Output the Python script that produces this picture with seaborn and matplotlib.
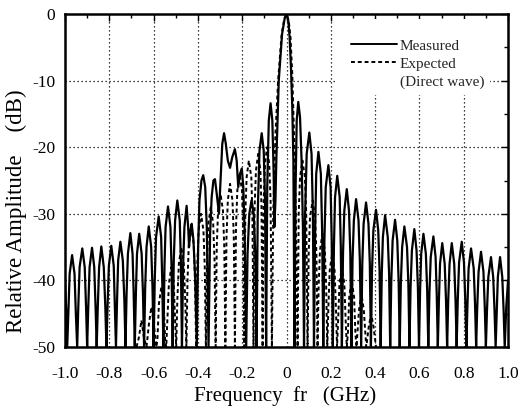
import numpy as np
import pandas as pd
import matplotlib
matplotlib.use("Agg")
import matplotlib.pyplot as plt
from matplotlib.lines import Line2D
from matplotlib.patches import Rectangle
import seaborn as sns

# ---- Measured spectrum, (frequency GHz, amplitude dB) vertices ----
measured_left = [
    (-1.000, -40.0), (-0.995, -44.0), (-0.990, -50.0),
    (-0.985, -45.0), (-0.979, -39.0), (-0.968, -36.2), (-0.957, -39.0), (-0.951, -45.0), (-0.945, -50.0),
    (-0.940, -44.0), (-0.934, -38.0), (-0.922, -35.2), (-0.911, -38.0), (-0.905, -44.0), (-0.900, -50.0),
    (-0.895, -44.0), (-0.889, -38.0), (-0.878, -35.1), (-0.868, -38.0), (-0.862, -44.0), (-0.857, -50.0),
    (-0.852, -44.0), (-0.846, -38.0), (-0.836, -34.9), (-0.825, -38.0), (-0.818, -44.0), (-0.813, -50.0),
    (-0.808, -44.0), (-0.802, -37.8), (-0.791, -34.8), (-0.780, -37.8), (-0.775, -44.0), (-0.770, -50.0),
    (-0.765, -43.0), (-0.760, -37.0), (-0.750, -34.2), (-0.739, -37.0), (-0.732, -43.0), (-0.727, -50.0),
    (-0.722, -42.0), (-0.716, -36.0), (-0.705, -32.9), (-0.695, -36.0), (-0.690, -42.0), (-0.685, -50.0),
    (-0.680, -42.0), (-0.675, -36.0), (-0.665, -33.0), (-0.654, -36.0), (-0.648, -42.0), (-0.643, -50.0),
    (-0.638, -41.0), (-0.632, -35.0), (-0.622, -31.9), (-0.611, -35.0), (-0.605, -41.0), (-0.600, -50.0),
    (-0.595, -40.0), (-0.589, -33.5), (-0.577, -30.4), (-0.566, -33.5), (-0.561, -40.0), (-0.556, -50.0),
    (-0.551, -38.0), (-0.546, -32.0), (-0.535, -28.9), (-0.524, -32.0), (-0.519, -38.0), (-0.514, -50.0),
    (-0.509, -37.0), (-0.503, -31.0), (-0.493, -28.0), (-0.482, -31.0), (-0.477, -37.0), (-0.472, -50.0),
    (-0.467, -38.0), (-0.461, -32.0), (-0.451, -28.8), (-0.444, -32.0), (-0.440, -35.0), (-0.434, -32.5),
    (-0.428, -31.5), (-0.420, -34.0), (-0.412, -40.0), (-0.405, -50.0),
]
measured_core = [
    (-0.399, -35.0), (-0.393, -28.0), (-0.384, -25.0), (-0.376, -24.2), (-0.367, -26.0), (-0.360, -32.0),
    (-0.352, -50.0), (-0.345, -33.0), (-0.338, -27.5), (-0.330, -25.0), (-0.323, -24.8), (-0.315, -27.0),
    (-0.305, -30.0), (-0.298, -25.0), (-0.290, -19.5), (-0.282, -17.9), (-0.274, -19.5), (-0.265, -22.0),
    (-0.255, -23.1), (-0.245, -21.5), (-0.233, -20.3), (-0.225, -22.0), (-0.218, -26.0), (-0.210, -24.0),
    (-0.202, -23.2), (-0.195, -26.0), (-0.189, -33.0), (-0.182, -50.0), (-0.176, -36.0), (-0.168, -30.0),
    (-0.158, -28.0), (-0.148, -30.0), (-0.141, -36.0), (-0.135, -50.0), (-0.130, -30.0), (-0.122, -20.5),
    (-0.112, -17.9), (-0.103, -20.5), (-0.097, -28.0), (-0.092, -50.0), (-0.087, -26.0), (-0.080, -16.0),
    (-0.072, -13.4), (-0.064, -16.0), (-0.058, -24.0), (-0.055, -32.0), (-0.050, -28.0), (-0.046, -22.0),
    (-0.035, -10.0), (-0.020, -3.0), (-0.008, -0.6), (0.000, 0.0), (0.008, -1.0), (0.014, -3.5),
    (0.020, -8.0), (0.026, -14.0), (0.031, -22.0), (0.036, -50.0), (0.041, -26.0), (0.046, -16.0),
    (0.053, -13.2), (0.061, -15.5), (0.068, -22.0), (0.074, -32.0), (0.079, -50.0),
]
measured_right = [
    (0.084, -30.0), (0.091, -21.0), (0.103, -17.8), (0.113, -21.0), (0.119, -30.0), (0.124, -50.0),
    (0.129, -33.0), (0.134, -24.0), (0.144, -20.7), (0.155, -24.0), (0.161, -33.0), (0.166, -50.0),
    (0.171, -34.0), (0.177, -26.0), (0.189, -22.7), (0.199, -26.0), (0.204, -34.0), (0.209, -50.0),
    (0.214, -35.0), (0.219, -27.5), (0.229, -24.3), (0.240, -27.5), (0.245, -35.0), (0.250, -50.0),
    (0.255, -36.0), (0.261, -29.5), (0.272, -26.3), (0.282, -29.5), (0.288, -36.0), (0.293, -50.0),
    (0.298, -37.0), (0.304, -31.0), (0.314, -27.8), (0.325, -31.0), (0.331, -37.0), (0.337, -50.0),
    (0.342, -37.5), (0.348, -31.5), (0.359, -28.3), (0.370, -31.5), (0.376, -37.5), (0.381, -50.0),
    (0.386, -38.5), (0.392, -32.5), (0.404, -29.4), (0.414, -32.5), (0.420, -38.5), (0.425, -50.0),
    (0.430, -39.0), (0.435, -33.5), (0.445, -30.2), (0.457, -33.5), (0.463, -39.0), (0.468, -50.0),
    (0.473, -40.0), (0.479, -34.0), (0.490, -30.9), (0.500, -34.0), (0.506, -40.0), (0.511, -50.0),
    (0.516, -40.5), (0.522, -35.0), (0.532, -31.9), (0.544, -35.0), (0.550, -40.5), (0.555, -50.0),
    (0.560, -41.0), (0.566, -35.5), (0.577, -32.3), (0.587, -35.5), (0.593, -41.0), (0.598, -50.0),
    (0.603, -41.5), (0.608, -36.0), (0.618, -33.0), (0.629, -36.0), (0.635, -41.5), (0.640, -50.0),
    (0.645, -42.0), (0.651, -36.5), (0.663, -33.4), (0.673, -36.5), (0.678, -42.0), (0.683, -50.0),
    (0.688, -43.0), (0.693, -37.5), (0.703, -34.4), (0.714, -37.5), (0.720, -43.0), (0.725, -50.0),
    (0.730, -43.0), (0.736, -37.5), (0.746, -34.4), (0.757, -37.5), (0.763, -43.0), (0.768, -50.0),
    (0.773, -43.0), (0.779, -37.3), (0.791, -34.2), (0.801, -37.3), (0.807, -43.0), (0.812, -50.0),
    (0.817, -43.5), (0.822, -38.2), (0.833, -35.2), (0.845, -38.2), (0.851, -43.5), (0.856, -50.0),
    (0.861, -44.0), (0.867, -38.7), (0.878, -35.7), (0.889, -38.7), (0.895, -44.0), (0.900, -50.0),
    (0.905, -44.5), (0.911, -39.5), (0.923, -36.5), (0.933, -39.5), (0.939, -44.5), (0.944, -50.0),
    (0.949, -44.5), (0.954, -39.5), (0.964, -36.5), (0.974, -39.5), (0.980, -44.5), (0.985, -50.0),
    (0.992, -44.0), (1.000, -40.0),
]

# ---- Expected spectrum (direct wave), (frequency GHz, amplitude dB) vertices ----
expected_left = [
    (-0.677, -50.0), (-0.666, -48.5), (-0.655, -46.0), (-0.644, -48.5), (-0.632, -50.0),
    (-0.621, -46.5), (-0.610, -44.0), (-0.599, -46.5), (-0.588, -50.0),
    (-0.583, -49.0), (-0.576, -43.5), (-0.565, -41.0), (-0.554, -43.5), (-0.548, -49.0), (-0.543, -50.0),
    (-0.538, -46.0), (-0.531, -40.5), (-0.520, -38.0), (-0.509, -40.5), (-0.503, -46.0), (-0.498, -50.0),
    (-0.493, -43.0), (-0.486, -37.5), (-0.475, -35.0), (-0.464, -37.5), (-0.457, -43.0), (-0.452, -50.0),
    (-0.447, -40.0), (-0.441, -34.5), (-0.430, -32.0), (-0.419, -34.5), (-0.413, -40.0), (-0.408, -50.0),
    (-0.403, -38.0), (-0.397, -32.5), (-0.386, -30.0), (-0.375, -32.5), (-0.369, -38.0), (-0.364, -50.0),
    (-0.359, -37.0), (-0.353, -31.5), (-0.342, -29.0), (-0.331, -31.5), (-0.325, -37.0), (-0.320, -50.0),
    (-0.315, -35.0), (-0.309, -29.5), (-0.298, -27.0), (-0.287, -29.5), (-0.281, -35.0), (-0.276, -50.0),
    (-0.271, -33.5), (-0.265, -28.0), (-0.255, -25.5), (-0.244, -28.0), (-0.238, -33.5), (-0.233, -50.0),
    (-0.228, -32.0), (-0.222, -26.5), (-0.212, -24.0), (-0.201, -26.5), (-0.196, -32.0), (-0.191, -50.0),
    (-0.186, -30.0), (-0.180, -24.5), (-0.170, -22.0), (-0.159, -24.5), (-0.154, -30.0), (-0.149, -50.0),
    (-0.144, -29.0), (-0.138, -23.5), (-0.128, -21.0), (-0.118, -23.5), (-0.113, -29.0), (-0.108, -50.0),
    (-0.103, -28.0), (-0.097, -22.5), (-0.088, -20.0), (-0.078, -22.5), (-0.072, -28.0), (-0.066, -50.0),
]
expected_core = [
    (-0.060, -30.0), (-0.050, -18.0), (-0.038, -10.0), (-0.022, -3.0), (-0.010, -0.7), (0.000, 0.0),
    (0.010, -1.0), (0.018, -3.5), (0.026, -9.0), (0.034, -18.0), (0.042, -30.0), (0.050, -50.0),
]
expected_right = [
    (0.055, -30.0), (0.061, -24.5), (0.072, -22.0), (0.083, -24.5), (0.089, -30.0), (0.095, -50.0),
    (0.100, -36.0), (0.106, -30.5), (0.118, -28.0), (0.129, -30.5), (0.135, -36.0), (0.140, -50.0),
    (0.145, -41.0), (0.151, -35.5), (0.162, -33.0), (0.173, -35.5), (0.179, -41.0), (0.184, -50.0),
    (0.189, -44.0), (0.195, -38.5), (0.206, -36.0), (0.217, -38.5), (0.223, -44.0), (0.228, -50.0),
    (0.233, -46.0), (0.239, -40.5), (0.250, -38.0), (0.261, -40.5), (0.267, -46.0), (0.272, -50.0),
    (0.277, -48.0), (0.283, -42.5), (0.294, -40.0), (0.305, -42.5), (0.311, -48.0), (0.316, -50.0),
    (0.327, -44.5), (0.338, -42.0), (0.349, -44.5), (0.360, -50.0),
    (0.371, -47.0), (0.382, -45.0), (0.393, -47.0), (0.404, -50.0),
]

x_ticks = [-1.0, -0.8, -0.6, -0.4, -0.2, 0.0, 0.2, 0.4, 0.6, 0.8, 1.0]
x_tick_labels = ["-1.0", "-0.8", "-0.6", "-0.4", "-0.2", "0", "0.2", "0.4", "0.6", "0.8", "1.0"]
y_ticks = [0, -10, -20, -30, -40, -50]
y_tick_labels = ["0", "-10", "-20", "-30", "-40", "-50"]
legend_labels = ["Measured", "Expected", "(Direct wave)"]


def to_frame(*segments):
    pts = [p for seg in segments for p in seg]
    return pd.DataFrame(pts, columns=["freq", "db"])


measured = to_frame(measured_left, measured_core, measured_right)
expected = to_frame(expected_left, expected_core, expected_right)

sns.set_theme(style="white")
plt.rcParams["font.family"] = ["Liberation Serif", "DejaVu Serif"]
plt.rcParams["axes.unicode_minus"] = False

fig = plt.figure(figsize=(5.2, 4.13), dpi=100)
ax = fig.add_axes([0.125, 0.1598, 0.852, 0.8063])

ax.set_xlim(-1.0, 1.0)
ax.set_ylim(-50, 0)

# dotted grid
for gx in x_ticks[1:-1]:
    ax.axvline(gx, color="black", lw=0.9, ls=(0, (1, 2.2)), zorder=0.5)
for gy in y_ticks[1:-1]:
    ax.axhline(gy, color="black", lw=0.9, ls=(0, (1, 2.2)), zorder=0.5)

# blank area behind the legend
ax.add_patch(Rectangle((0.609, 0.757), 0.35, 0.228, transform=ax.transAxes,
                       facecolor="white", edgecolor="none", zorder=1))

dash = (0, (2.0, 1.5))
sns.lineplot(data=expected, x="freq", y="db", sort=False, estimator=None, ax=ax,
             color="black", linewidth=1.4, linestyle=dash, zorder=2)
sns.lineplot(data=measured, x="freq", y="db", sort=False, estimator=None, ax=ax,
             color="black", linewidth=1.6, zorder=3)

ax.set_xticks(x_ticks)
ax.set_xticklabels(x_tick_labels, fontsize=12.5)
ax.set_yticks(y_ticks)
ax.set_yticklabels(y_tick_labels, fontsize=12.5)
ax.set_xticks(np.arange(-0.9, 1.0, 0.2), minor=True)
ax.set_yticks([-5, -15, -25, -35, -45], minor=True)
ax.tick_params(axis="both", which="both", direction="in", top=True, right=True,
               color="black", width=1.0, labelcolor="black")
ax.tick_params(axis="both", which="major", length=5)
ax.tick_params(axis="x", which="major", pad=14)
ax.tick_params(axis="y", which="major", pad=7)
ax.tick_params(axis="both", which="minor", length=3)

for s in ax.spines.values():
    s.set_color("black")
    s.set_linewidth(1.8)

ax.set_xlabel("Frequency  fr   (GHz)", fontsize=15, color="black")
ax.xaxis.set_label_coords(0.497, -0.118)
ax.set_ylabel("Relative Amplitude    (dB)", fontsize=16.5, color="black")
ax.yaxis.set_label_coords(-0.085, 0.408)

handles = [
    Line2D([], [], color="black", lw=1.4),
    Line2D([], [], color="black", lw=1.4, ls=dash),
    Line2D([], [], color="none", lw=0),
]
ax.legend(handles, legend_labels, loc="upper left",
          bbox_to_anchor=(0.645, 0.925), frameon=False, fontsize=11,
          handlelength=3.0, handletextpad=0.2, labelspacing=0.28,
          borderpad=0.0, borderaxespad=0.0)

fig.savefig("out.png", dpi=100)
